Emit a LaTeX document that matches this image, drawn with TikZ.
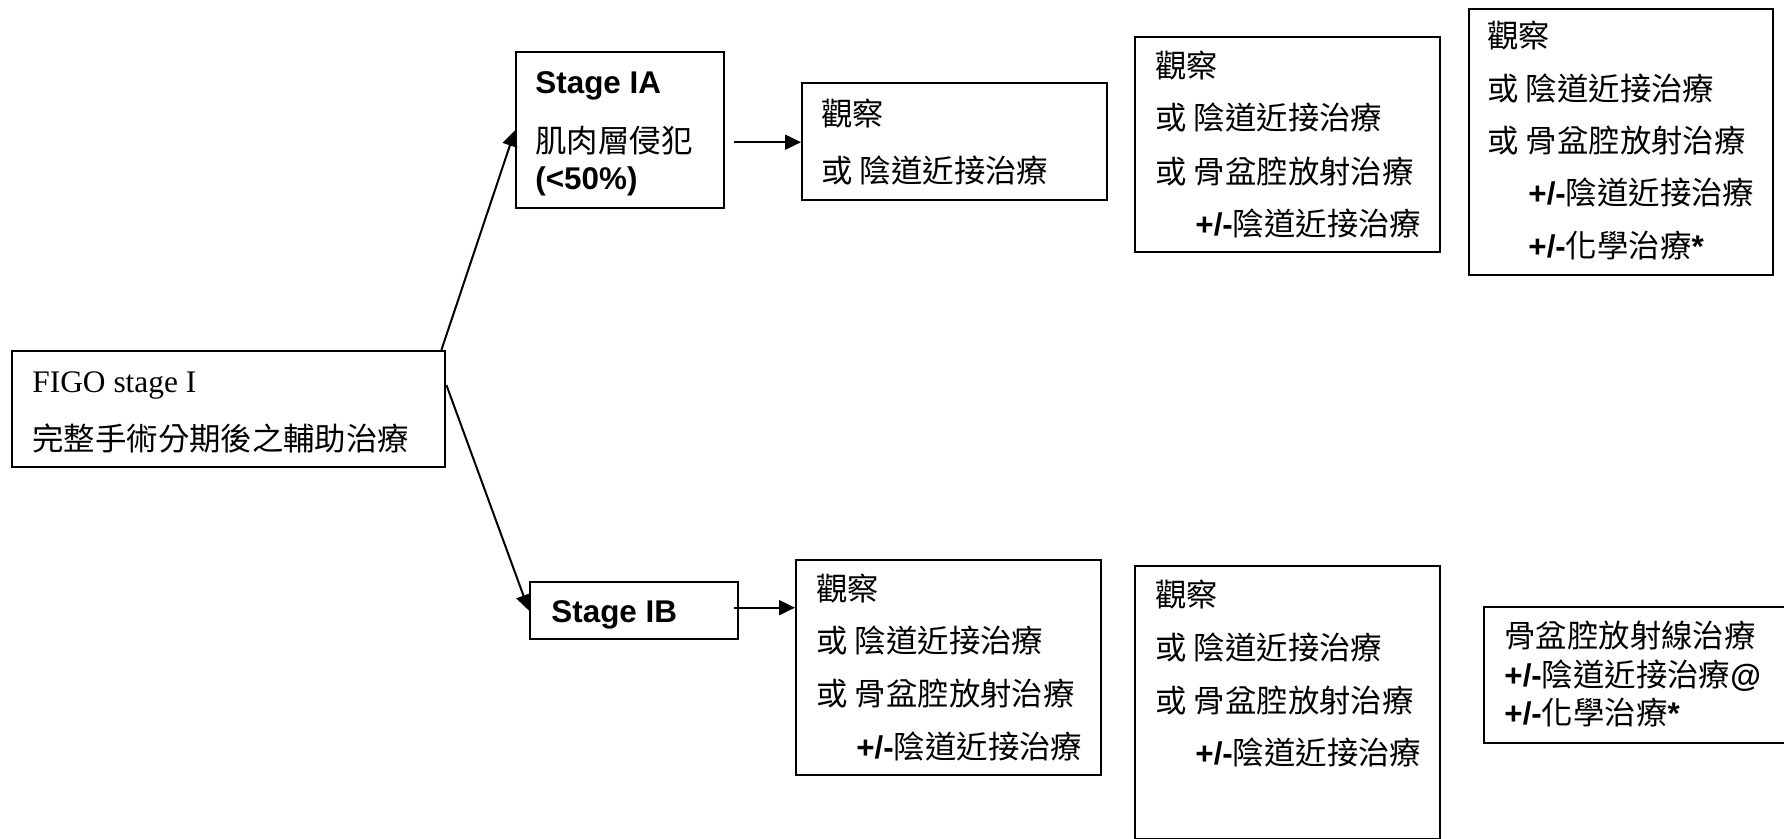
\documentclass[tikz,border=0pt]{standalone}
\usepackage{fontspec}
\setmainfont{Liberation Sans}
\newfontfamily\cjk{Noto Sans CJK TC}
\newfontfamily\tnr{Liberation Serif}
\usetikzlibrary{arrows.meta,calc}
\newcommand\ck[1]{{\cjk #1}}
\newcommand\plmi{{\bfseries +/-}}
\begin{document}
\begin{tikzpicture}[x=0.5pt,y=-0.5pt,
 box/.style={draw,line width=1.2pt,rectangle,inner sep=0pt,anchor=north west},
 txt/.style={anchor=base west,inner sep=0pt,font=\fontsize{15.7}{18}\selectfont},
 conn/.style={line width=1pt,-{Triangle[length=8pt,width=7.5pt]}}]
\useasboundingbox (0,0) rectangle (1784,839);

% boxes
\node[box,minimum width=216.5pt,minimum height=58pt] (figo) at (11,350) {};
\node[box,minimum width=104pt,minimum height=78pt] (ia) at (515,51) {};
\node[box,minimum width=152.5pt,minimum height=58.5pt] (a1) at (801,82) {};
\node[box,minimum width=152.5pt,minimum height=107.5pt] (a2) at (1134,36) {};
\node[box,minimum width=152pt,minimum height=133pt] (a3) at (1468,8) {};
\node[box,minimum width=104pt,minimum height=28.5pt] (ib) at (529,581) {};
\node[box,minimum width=152.5pt,minimum height=107.5pt] (b1) at (795,559) {};
\node[box,minimum width=152.5pt,minimum height=136.5pt] (b2) at (1134,565) {};
\node[box,minimum width=158.5pt,minimum height=68pt] (b3) at (1483,606) {};

% texts
\node[txt] (figo1) at (32,393) {\tnr FIGO stage I};
\node[txt] (figo2) at (32,451) {\ck{完整手術分期後之輔助治療}};

\node[txt] (ia1) at (535,94) {\bfseries Stage IA};
\node[txt] (ia2) at (535,153) {\ck{肌肉層侵犯}};
\node[txt] (ia3) at (535,190) {\bfseries (<50\%)};

\node[txt] (a11) at (821,126) {\ck{觀察}};
\node[txt] (a12) at (821,183) {\ck{或 陰道近接治療}};

\node[txt] (a21) at (1155,78) {\ck{觀察}};
\node[txt] (a22) at (1155,130) {\ck{或 陰道近接治療}};
\node[txt] (a23) at (1155,184) {\ck{或 骨盆腔放射治療}};
\node[txt] (a24) at (1195,236) {\plmi\ck{陰道近接治療}};

\node[txt] (a31) at (1487,48) {\ck{觀察}};
\node[txt] (a32) at (1487,101) {\ck{或 陰道近接治療}};
\node[txt] (a33) at (1487,153) {\ck{或 骨盆腔放射治療}};
\node[txt] (a34) at (1528,205) {\plmi\ck{陰道近接治療}};
\node[txt] (a35) at (1528,258) {\plmi\ck{化學治療}{\bfseries *}};

\node[txt] (ib1) at (551,622) {\bfseries Stage IB};

\node[txt] (b11) at (816,601) {\ck{觀察}};
\node[txt] (b12) at (816,653) {\ck{或 陰道近接治療}};
\node[txt] (b13) at (816,705) {\ck{或 骨盆腔放射治療}};
\node[txt] (b14) at (856,758) {\plmi\ck{陰道近接治療}};

\node[txt] (b21) at (1155,606) {\ck{觀察}};
\node[txt] (b22) at (1155,659) {\ck{或 陰道近接治療}};
\node[txt] (b23) at (1155,712) {\ck{或 骨盆腔放射治療}};
\node[txt] (b24) at (1195,764) {\plmi\ck{陰道近接治療}};

\node[txt] (b31) at (1504,647) {\ck{骨盆腔放射線治療}};
\node[txt] (b32) at (1504,686) {\plmi\ck{陰道近接治療}{\bfseries @}};
\node[txt] (b33) at (1504,724) {\plmi\ck{化學治療}{\bfseries *}};

% connectors
\coordinate (figoup) at ($(figo.north east)+(-5,0)$);
\coordinate (figodn) at ($(figo.north east)+(0,35)$);
\draw[conn] (figoup) -- (ia.west);
\draw[conn] (figodn) -- (ib.west);
\coordinate (iaout) at ($(ia.east)+(9,12)$);
\draw[conn] (iaout) -- (iaout -| a1.west);
\coordinate (ibout) at ($(ib.east)+(-5,-3)$);
\draw[conn] (ibout) -- (ibout -| b1.west);
\end{tikzpicture}
\end{document}
